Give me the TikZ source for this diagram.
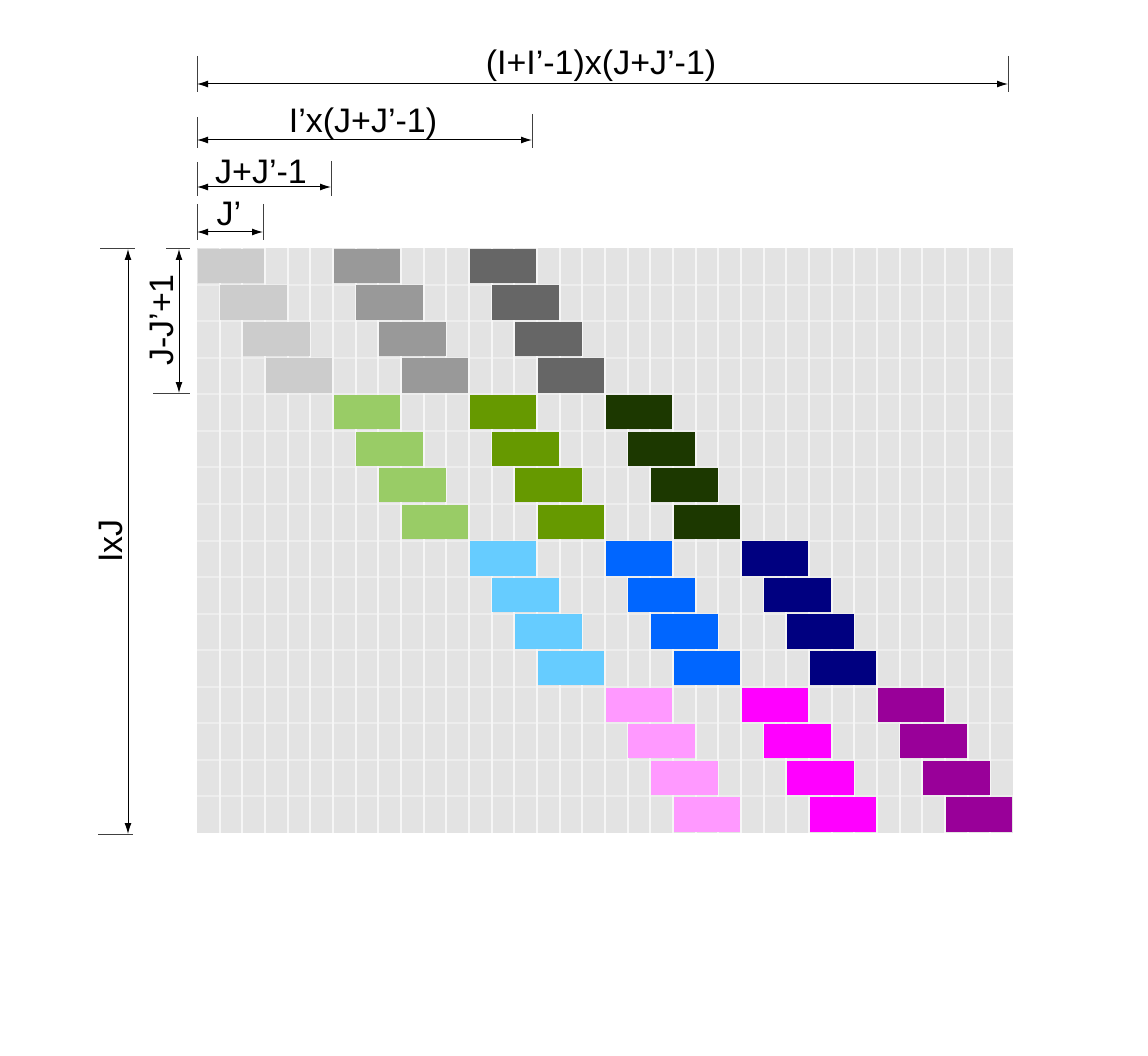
\documentclass[tikz,border=0pt]{standalone}
\usepackage{fontspec}
\setmainfont{Liberation Sans}
\usetikzlibrary{arrows.meta}
\definecolor{gridbg}{HTML}{E3E3E3}
\definecolor{gridh}{HTML}{EDEDED}
\definecolor{gridv}{HTML}{F6F6F6}
\definecolor{c00}{HTML}{CCCCCC}
\definecolor{c01}{HTML}{999999}
\definecolor{c02}{HTML}{666666}
\definecolor{c10}{HTML}{99CC66}
\definecolor{c11}{HTML}{669900}
\definecolor{c12}{HTML}{1C3800}
\definecolor{c20}{HTML}{66CCFF}
\definecolor{c21}{HTML}{0066FF}
\definecolor{c22}{HTML}{000080}
\definecolor{c30}{HTML}{FF99FF}
\definecolor{c31}{HTML}{FF00FF}
\definecolor{c32}{HTML}{990099}
\begin{document}
\begin{tikzpicture}[x=1pt,y=-1pt,
  dim/.style={draw=black, line width=1pt, {Latex[length=11pt,width=7pt]}-{Latex[length=11pt,width=7pt]}},
  tickline/.style={draw=black!75, line width=1pt},
  lbl/.style={font=\fontsize{34}{38}\selectfont, inner sep=0pt}]
\useasboundingbox[fill=white] (0,0) rectangle (1148,1056);
% grid
\fill[gridbg] (197,248) rectangle (1013,833);
\foreach \j in {1,...,15}
  \draw[gridh, line width=2pt] (197,{248+\j*36.5625}) -- (1013,{248+\j*36.5625});
\foreach \i in {1,...,35}
  \draw[gridv, line width=2.2pt] ({197+\i*22.6667},248) -- ({197+\i*22.6667},833);
% blocks
\foreach \g in {0,1,2,3}
  \foreach \k in {0,1,2,3}
    \foreach \m in {0,1,2}{
      \pgfmathsetmacro{\col}{6*\g+\k+6*\m}
      \pgfmathsetmacro{\row}{4*\g+\k}
      \fill[c\g\m] ({197+\col*22.6667+0.8},{248+\row*36.5625+0.8}) rectangle ({197+(\col+3)*22.6667-0.8},{248+(\row+1)*36.5625-1.5});
    }
% horizontal dimensions
\coordinate (a1) at (197,84);  \coordinate (b1) at (1008,84);
\coordinate (a2) at (197,140); \coordinate (b2) at (532,140);
\coordinate (a3) at (197,187); \coordinate (b3) at (331,187);
\coordinate (a4) at (197,232); \coordinate (b4) at (263,232);
\draw[tickline] (197,56) -- (197,92);  \draw[tickline] (1008,56) -- (1008,92);
\draw[tickline] (197,117) -- (197,148); \draw[tickline] (532,114) -- (532,148);
\draw[tickline] (197,162) -- (197,196); \draw[tickline] (331,161) -- (331,196);
\draw[tickline] (197,204) -- (197,240); \draw[tickline] (263,204) -- (263,240);
\draw[dim] (a1) -- (b1);
\draw[dim] (a2) -- (b2);
\draw[dim] (a3) -- (b3);
\draw[dim] (a4) -- (b4);
\node[lbl] (l1) at (601,66) {(I+I’-1)x(J+J’-1)};
\node[lbl] (l2) at (363,124) {I’x(J+J’-1)};
\node[lbl] (l3) at (261,172) {J+J’-1};
\node[lbl] (l4) at (229,214) {J’};
% vertical dimensions
\coordinate (v1a) at (128,249); \coordinate (v1b) at (128,834);
\coordinate (v2a) at (179,249); \coordinate (v2b) at (179,393);
\draw[tickline] (100,249) -- (135,249); \draw[tickline] (98,834) -- (133,834);
\draw[tickline] (166,249) -- (190,249); \draw[tickline] (153,393) -- (190,393);
\draw[dim] (v1a) -- (v1b);
\draw[dim] (v2a) -- (v2b);
\node[lbl, rotate=90] (l5) at (111,541) {IxJ};
\node[lbl, rotate=90] (l6) at (162,320) {J-J’+1};
\end{tikzpicture}
\end{document}
